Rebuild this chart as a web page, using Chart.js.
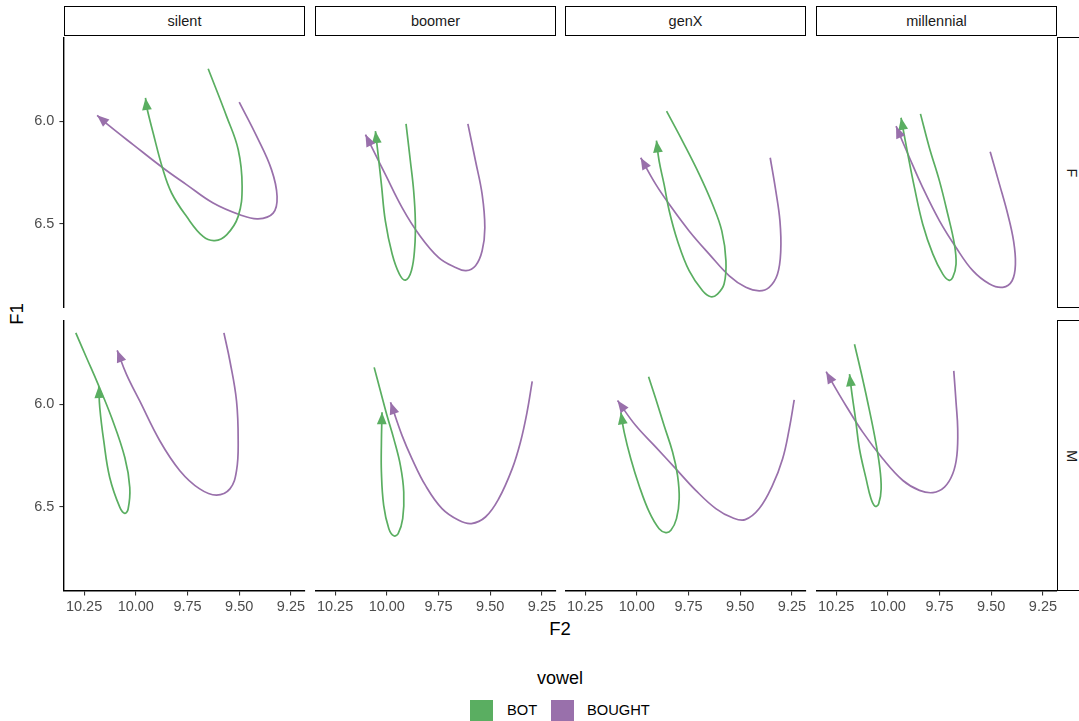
<!DOCTYPE html>
<html>
<head>
<meta charset="utf-8">
<script src="https://cdn.jsdelivr.net/npm/chart.js@4.4.1/dist/chart.umd.min.js"></script>
<style>
  body { margin: 0; width: 1079px; height: 721px; overflow: hidden; background: #fff;
         position: relative; font-family: "Liberation Sans", Arial, sans-serif; }
  canvas { position: absolute; }
  .strip { position: absolute; box-sizing: border-box; border: 1.6px solid #000; background: #fff;
           display: flex; align-items: center; justify-content: center;
           font-size: 14.5px; color: #1a1a1a; }
  .strip.side span { transform: rotate(90deg); }
  .title { position: absolute; font-size: 18.5px; color: #000; white-space: nowrap; }
  .key { position: absolute; width: 23px; height: 23px; }
  .keytext { position: absolute; font-size: 14.7px; color: #000; }
</style>
</head>
<body>
<div class="title" style="left:560px; top:629px; transform:translate(-50%,-50%);">F2</div>
<div class="title" style="left:17px; top:314px; transform:translate(-50%,-50%) rotate(-90deg);">F1</div>
<div class="title" style="left:560px; top:678px; transform:translate(-50%,-50%); font-size:18px;">vowel</div>
<div class="key" style="left:470px; top:700px; background:#5AAE61;"></div>
<div class="keytext" style="left:507px; top:702px;">BOT</div>
<div class="key" style="left:551px; top:700px; background:#9970AB;"></div>
<div class="keytext" style="left:587px; top:702px;">BOUGHT</div>

<script>
// facets
const generations = ['silent', 'boomer', 'genX', 'millennial'];
const sexes = ['F', 'M'];
const vowels = ['BOT', 'BOUGHT'];

// tick labels
const xTickValues = [10.25, 10.00, 9.75, 9.50, 9.25];
const yTickValues = [6.0, 6.5];

// trajectories, F2 and F1 per facet and vowel (last point = arrow tip)
const silentF_BOT_F2 = [9.650, 9.561, 9.505, 9.486, 9.505, 9.561, 9.618, 9.675, 9.755, 9.827, 9.871, 9.916, 9.948, 9.953];
const silentF_BOT_F1 = [5.744, 5.976, 6.138, 6.318, 6.464, 6.554, 6.582, 6.562, 6.464, 6.350, 6.228, 6.057, 5.927, 5.886];
const silentF_BOUGHT_F2 = [9.500, 9.416, 9.344, 9.317, 9.336, 9.409, 9.497, 9.626, 9.755, 9.868, 10.013, 10.126, 10.187];
const silentF_BOUGHT_F1 = [5.907, 6.073, 6.236, 6.367, 6.448, 6.476, 6.456, 6.399, 6.309, 6.228, 6.114, 6.024, 5.971];
const silentM_BOT_F2 = [10.290, 10.238, 10.182, 10.117, 10.053, 10.029, 10.037, 10.053, 10.077, 10.126, 10.155, 10.174, 10.179];
const silentM_BOT_F1 = [5.652, 5.773, 5.903, 6.065, 6.260, 6.406, 6.511, 6.532, 6.503, 6.357, 6.178, 6.017, 5.911];
const silentM_BOUGHT_F2 = [9.574, 9.545, 9.513, 9.505, 9.513, 9.545, 9.610, 9.691, 9.787, 9.884, 9.981, 10.045, 10.090];
const silentM_BOUGHT_F1 = [5.652, 5.789, 5.984, 6.178, 6.324, 6.413, 6.443, 6.413, 6.324, 6.178, 5.984, 5.854, 5.737];

const boomerF_BOT_F2 = [9.907, 9.886, 9.870, 9.862, 9.865, 9.881, 9.910, 9.939, 9.974, 10.007, 10.026, 10.042, 10.055];
const boomerF_BOT_F1 = [6.013, 6.194, 6.340, 6.486, 6.616, 6.729, 6.775, 6.746, 6.648, 6.486, 6.308, 6.162, 6.048];
const boomerF_BOUGHT_F2 = [9.608, 9.571, 9.539, 9.526, 9.539, 9.571, 9.617, 9.668, 9.749, 9.845, 9.926, 10.007, 10.063, 10.103];
const boomerF_BOUGHT_F1 = [6.013, 6.194, 6.357, 6.519, 6.632, 6.705, 6.729, 6.713, 6.665, 6.551, 6.421, 6.259, 6.146, 6.065];
const boomerM_BOT_F2 = [10.061, 10.031, 9.999, 9.966, 9.934, 9.918, 9.923, 9.945, 9.966, 9.990, 10.015, 10.026, 10.026, 10.023];
const boomerM_BOT_F1 = [5.820, 5.934, 6.055, 6.169, 6.299, 6.428, 6.558, 6.631, 6.642, 6.607, 6.493, 6.331, 6.185, 6.039];
const boomerM_BOUGHT_F2 = [9.297, 9.322, 9.354, 9.394, 9.459, 9.523, 9.591, 9.652, 9.733, 9.813, 9.878, 9.926, 9.982];
const boomerM_BOUGHT_F1 = [5.888, 6.039, 6.185, 6.315, 6.461, 6.550, 6.582, 6.566, 6.509, 6.396, 6.266, 6.153, 5.990];

const genXF_BOT_F2 = [9.856, 9.779, 9.698, 9.634, 9.589, 9.569, 9.578, 9.610, 9.642, 9.682, 9.747, 9.803, 9.843, 9.868, 9.892, 9.905];
const genXF_BOT_F1 = [5.951, 6.097, 6.259, 6.405, 6.535, 6.681, 6.794, 6.843, 6.856, 6.827, 6.729, 6.584, 6.438, 6.308, 6.194, 6.094];
const genXF_BOUGHT_F2 = [9.355, 9.328, 9.308, 9.304, 9.320, 9.360, 9.408, 9.473, 9.553, 9.650, 9.747, 9.843, 9.908, 9.981];
const genXF_BOUGHT_F1 = [6.178, 6.340, 6.486, 6.632, 6.746, 6.810, 6.827, 6.810, 6.754, 6.648, 6.535, 6.405, 6.308, 6.178];
const genXM_BOT_F2 = [9.943, 9.908, 9.868, 9.827, 9.803, 9.795, 9.808, 9.835, 9.860, 9.892, 9.940, 9.989, 10.029, 10.061, 10.077];
const genXM_BOT_F1 = [5.866, 5.974, 6.104, 6.233, 6.347, 6.461, 6.558, 6.615, 6.626, 6.607, 6.525, 6.396, 6.266, 6.136, 6.039];
const genXM_BOUGHT_F2 = [9.239, 9.263, 9.295, 9.344, 9.408, 9.476, 9.537, 9.618, 9.715, 9.811, 9.908, 10.005, 10.093];
const genXM_BOUGHT_F1 = [5.979, 6.120, 6.266, 6.396, 6.509, 6.563, 6.554, 6.509, 6.420, 6.315, 6.209, 6.104, 5.982];

const millennialF_BOT_F2 = [9.842, 9.799, 9.750, 9.710, 9.678, 9.670, 9.686, 9.705, 9.734, 9.782, 9.831, 9.871, 9.903, 9.936];
const millennialF_BOT_F1 = [5.964, 6.129, 6.292, 6.454, 6.600, 6.697, 6.762, 6.775, 6.746, 6.648, 6.502, 6.324, 6.162, 5.983];
const millennialF_BOUGHT_F2 = [9.505, 9.460, 9.420, 9.392, 9.383, 9.399, 9.444, 9.508, 9.589, 9.670, 9.750, 9.831, 9.895, 9.960];
const millennialF_BOUGHT_F1 = [6.149, 6.308, 6.454, 6.584, 6.697, 6.778, 6.810, 6.794, 6.729, 6.616, 6.486, 6.324, 6.178, 6.024];
const millennialM_BOT_F2 = [10.161, 10.129, 10.097, 10.064, 10.040, 10.032, 10.044, 10.061, 10.081, 10.105, 10.137, 10.156, 10.172, 10.185];
const millennialM_BOT_F1 = [5.707, 5.844, 5.990, 6.153, 6.299, 6.412, 6.485, 6.498, 6.461, 6.363, 6.217, 6.071, 5.958, 5.853];
const millennialM_BOUGHT_F2 = [9.681, 9.670, 9.662, 9.666, 9.686, 9.726, 9.782, 9.847, 9.927, 10.024, 10.121, 10.202, 10.250, 10.298];
const millennialM_BOUGHT_F1 = [5.837, 5.990, 6.120, 6.250, 6.339, 6.404, 6.431, 6.420, 6.372, 6.266, 6.136, 6.007, 5.926, 5.841];

const tracks = {
  silentF: [[silentF_BOT_F2, silentF_BOT_F1], [silentF_BOUGHT_F2, silentF_BOUGHT_F1]],
  silentM: [[silentM_BOT_F2, silentM_BOT_F1], [silentM_BOUGHT_F2, silentM_BOUGHT_F1]],
  boomerF: [[boomerF_BOT_F2, boomerF_BOT_F1], [boomerF_BOUGHT_F2, boomerF_BOUGHT_F1]],
  boomerM: [[boomerM_BOT_F2, boomerM_BOT_F1], [boomerM_BOUGHT_F2, boomerM_BOUGHT_F1]],
  genXF: [[genXF_BOT_F2, genXF_BOT_F1], [genXF_BOUGHT_F2, genXF_BOUGHT_F1]],
  genXM: [[genXM_BOT_F2, genXM_BOT_F1], [genXM_BOUGHT_F2, genXM_BOUGHT_F1]],
  millennialF: [[millennialF_BOT_F2, millennialF_BOT_F1], [millennialF_BOUGHT_F2, millennialF_BOUGHT_F1]],
  millennialM: [[millennialM_BOT_F2, millennialM_BOT_F1], [millennialM_BOUGHT_F2, millennialM_BOUGHT_F1]]
};

const colors = ['#5AAE61', '#9970AB'];
const xMin = 9.182, xMax = 10.347;
const yMin = 5.589, yMax = 6.911;

// layout of the facet grid
const panelLeft = [64, 315, 565, 816];
const panelTop = [37, 320];
const panelW = 241, panelH = 271;
const xAxisH = 40, padRight = 10;

// closed arrow head at the end of each path
const arrowHeads = {
  id: 'arrowHeads',
  afterDatasetsDraw(chart) {
    const ctx = chart.ctx;
    chart.data.datasets.forEach((ds, i) => {
      const pts = chart.getDatasetMeta(i).data;
      const tip = pts[pts.length - 1];
      const from = pts[pts.length - 2];
      const a = Math.atan2(tip.y - from.y, tip.x - from.x);
      const len = 12, hw = 4.9;
      const bx = tip.x - len * Math.cos(a), by = tip.y - len * Math.sin(a);
      ctx.save();
      ctx.fillStyle = ds.borderColor;
      ctx.beginPath();
      ctx.moveTo(tip.x, tip.y);
      ctx.lineTo(bx + hw * Math.sin(a), by - hw * Math.cos(a));
      ctx.lineTo(bx - hw * Math.sin(a), by + hw * Math.cos(a));
      ctx.closePath();
      ctx.fill();
      ctx.restore();
    });
  }
};

function addStrip(text, left, top, w, h, side) {
  const d = document.createElement('div');
  d.className = side ? 'strip side' : 'strip';
  d.style.left = left + 'px';
  d.style.top = top + 'px';
  d.style.width = w + 'px';
  d.style.height = h + 'px';
  d.innerHTML = '<span>' + text + '</span>';
  document.body.appendChild(d);
}

function makePanel(r, c) {
  const key = generations[c] + sexes[r];
  const showX = r === 1, showY = c === 0;
  const canvas = document.createElement('canvas');
  const left = showY ? 0 : panelLeft[c];
  const w = (showY ? panelLeft[0] : 0) + panelW + (showX ? padRight : 0);
  const h = panelH + (showX ? xAxisH : 0);
  canvas.width = w;
  canvas.height = h;
  canvas.style.left = left + 'px';
  canvas.style.top = panelTop[r] + 'px';
  document.body.appendChild(canvas);

  const datasets = vowels.map((v, k) => ({
    label: v,
    data: tracks[key][k][0].map((f2, j) => ({x: f2, y: tracks[key][k][1][j]})),
    borderColor: colors[k],
    backgroundColor: colors[k],
    borderWidth: 1.7,
    showLine: true,
    pointRadius: 0,
    tension: 0.4,
    fill: false
  }));

  new Chart(canvas.getContext('2d'), {
    type: 'scatter',
    data: {datasets: datasets},
    options: {
      responsive: false,
      animation: false,
      events: [],
      layout: {padding: {left: 0, top: 0, bottom: 0, right: showX ? padRight : 0}},
      plugins: {legend: {display: false}, tooltip: {enabled: false}},
      scales: {
        x: {
          type: 'linear', reverse: true, min: xMin, max: xMax,
          display: showX,
          afterBuildTicks: s => { s.ticks = xTickValues.map(v => ({value: v})); },
          afterFit: s => {
            if (!showX) return;
            s.height = xAxisH; s.paddingLeft = 0; s.paddingRight = 0;
          },
          ticks: {
            callback: v => v.toFixed(2), color: '#4d4d4d', padding: 3, maxRotation: 0,
            font: {family: 'Liberation Sans', size: 14.5}
          },
          grid: {drawOnChartArea: false, tickLength: 4.6, color: '#333333', lineWidth: 1.1},
          border: {display: true, color: '#000', width: 1.4}
        },
        y: {
          type: 'linear', reverse: true, min: yMin, max: yMax,
          display: showY,
          afterBuildTicks: s => { s.ticks = yTickValues.map(v => ({value: v})); },
          afterFit: s => {
            if (!showY) return;
            s.width = panelLeft[0]; s.paddingTop = 0; s.paddingBottom = 0;
          },
          ticks: {
            callback: v => v.toFixed(1), color: '#4d4d4d', padding: 5,
            font: {family: 'Liberation Sans', size: 14.5}
          },
          grid: {drawOnChartArea: false, tickLength: 4.6, color: '#333333', lineWidth: 1.1},
          border: {display: true, color: '#000', width: 1.4}
        }
      }
    },
    plugins: [arrowHeads]
  });
}

generations.forEach((g, c) => addStrip(g, panelLeft[c], 6, panelW, 30, false));
sexes.forEach((s, r) => addStrip(s, 1057, panelTop[r], 30, panelH, true));

for (let r = 0; r < sexes.length; r++) {
  for (let c = 0; c < generations.length; c++) {
    makePanel(r, c);
  }
}
</script>
</body>
</html>
